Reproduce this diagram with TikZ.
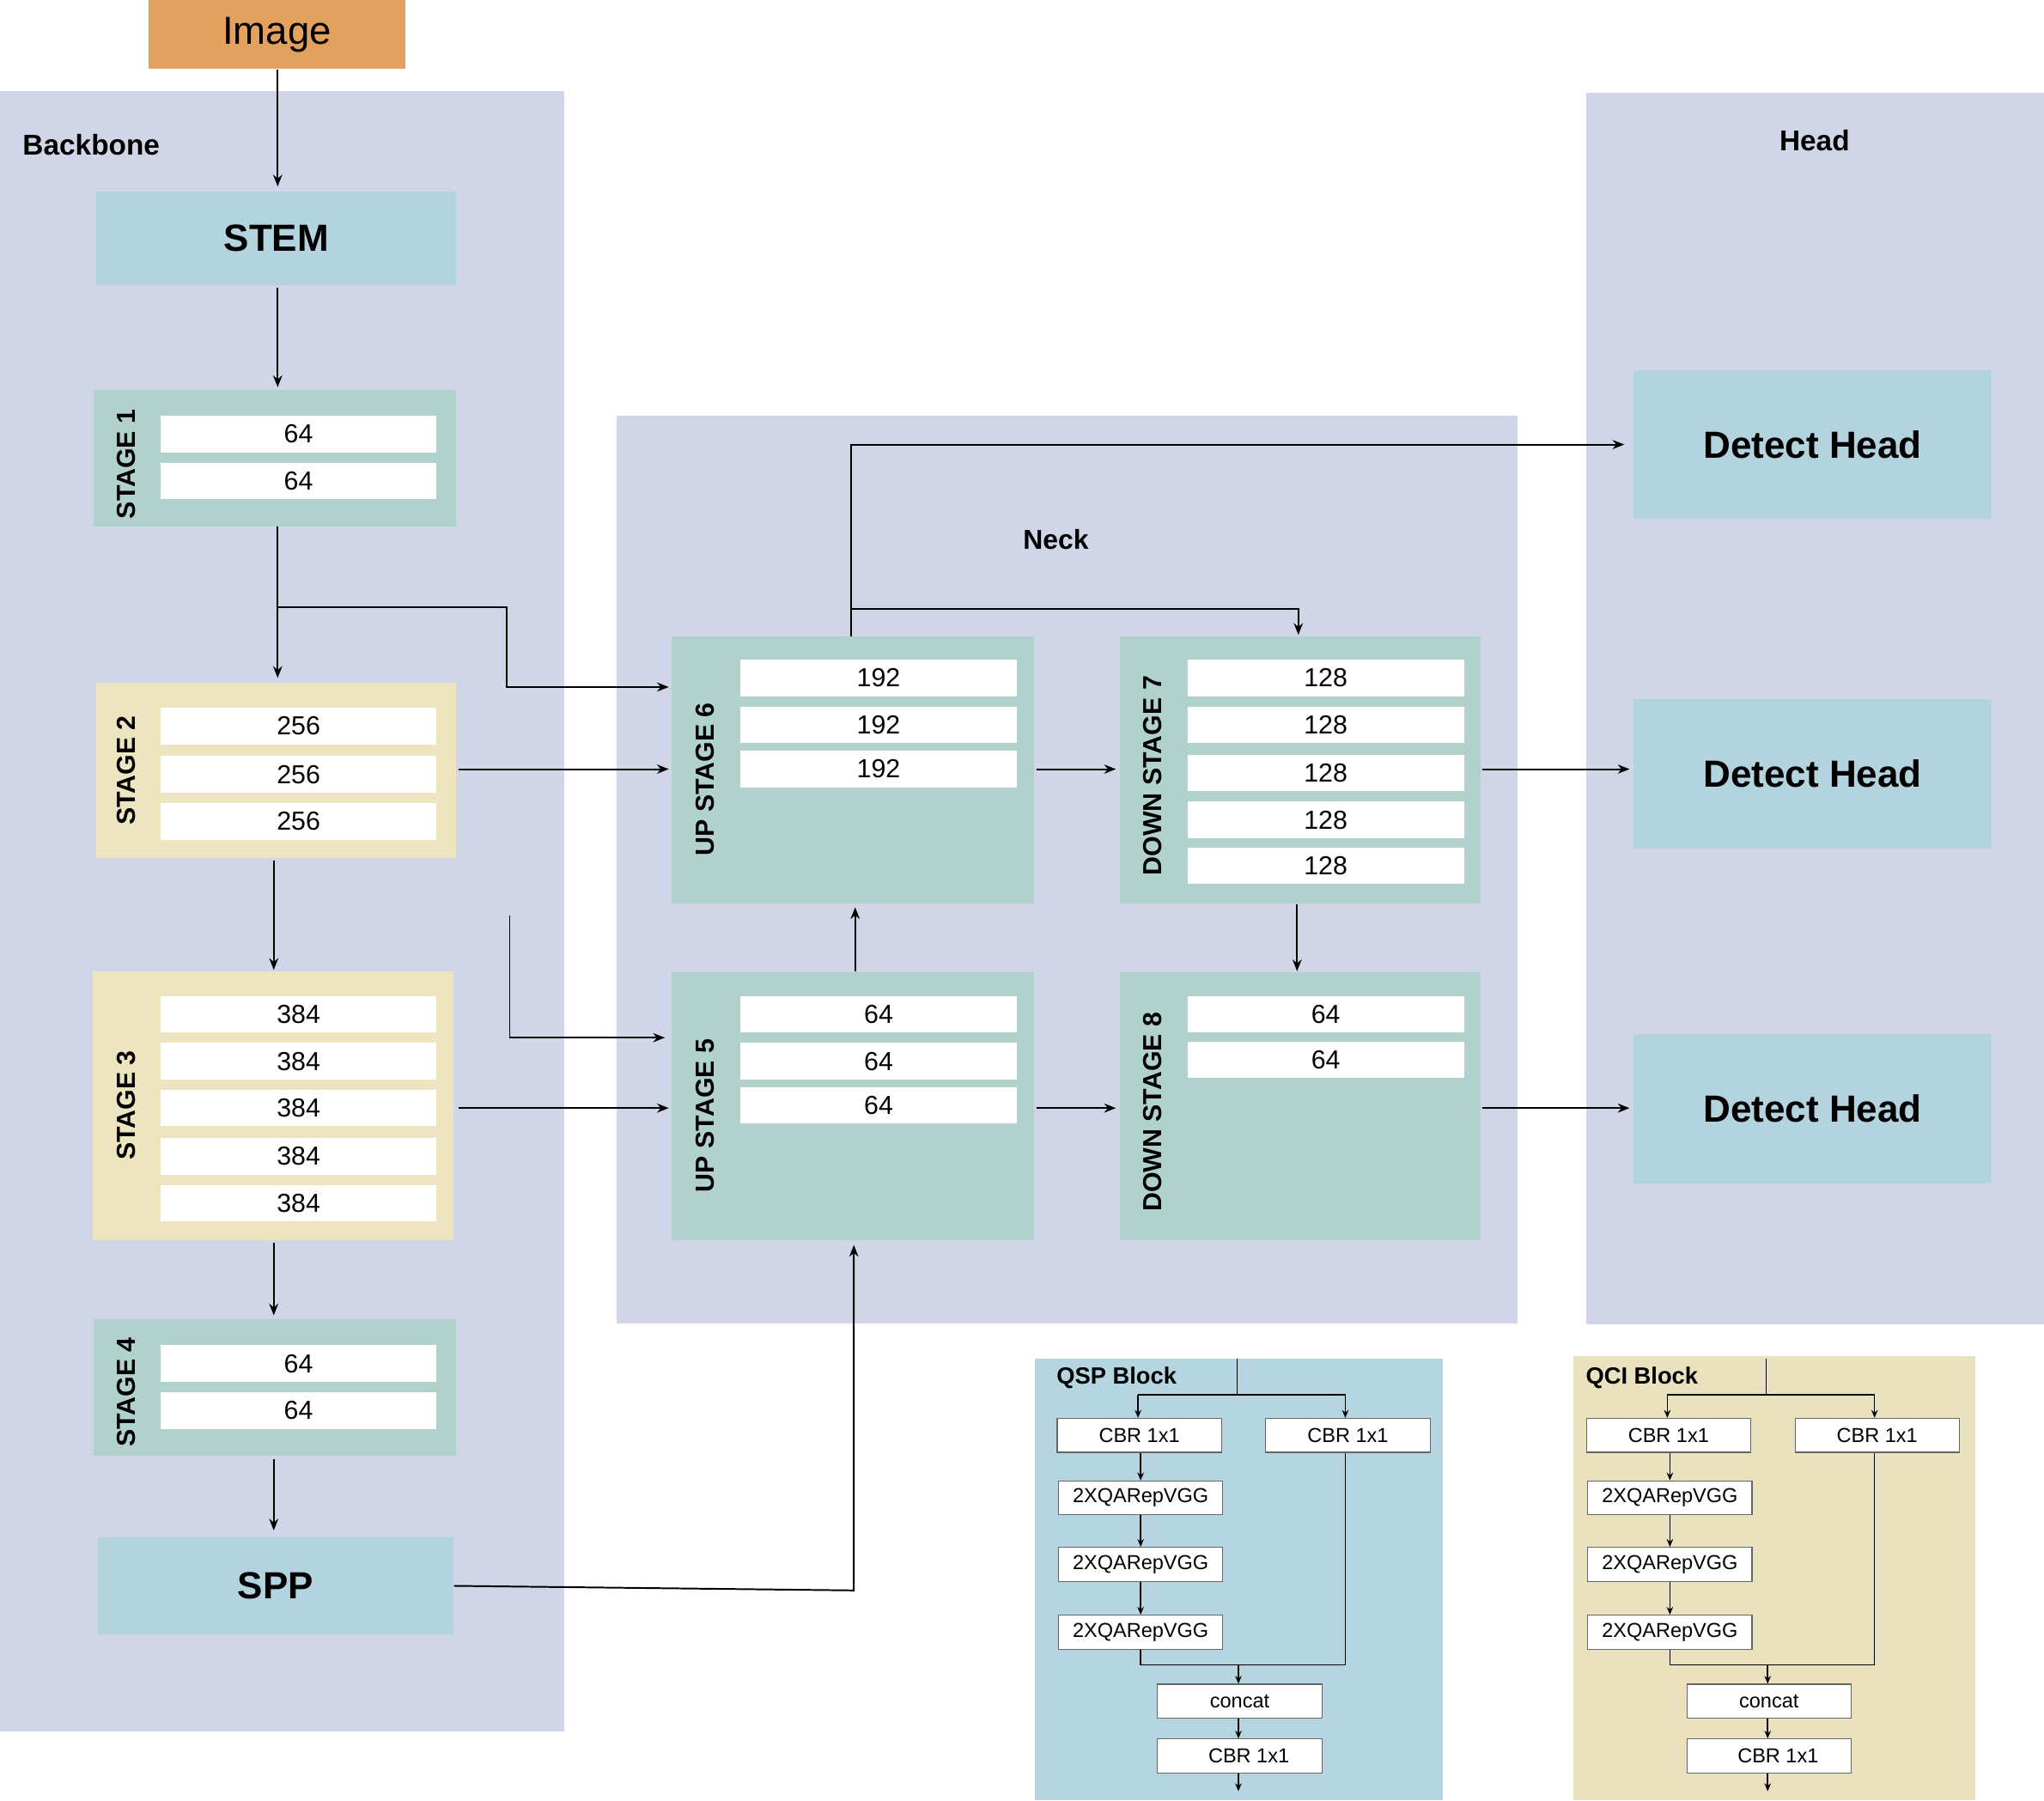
\documentclass[tikz,border=0pt]{standalone}
\usepackage{fontspec}
\setmainfont{Liberation Sans}
\usetikzlibrary{arrows.meta,calc}
\definecolor{lav}{HTML}{D0D5E8}
\definecolor{teal}{HTML}{B1D2CC}
\definecolor{yel}{HTML}{EDE5C0}
\definecolor{lblue}{HTML}{B3D4DF}
\definecolor{qsp}{HTML}{B5D5E0}
\definecolor{qci}{HTML}{EAE2BE}
\definecolor{img}{HTML}{E2A15F}
\tikzset{
  arr/.style={-{Stealth[length=9pt,width=7pt]},line width=1.3pt},
  sarr/.style={-{Stealth[length=6pt,width=5pt]},line width=1pt},
  region/.style={fill=lav,draw=none,inner sep=0pt},
  blk/.style={draw=none,inner sep=0pt},
  row/.style={fill=white,draw=none,inner sep=0pt,font=\fontsize{20}{22}\selectfont},
  vlab/.style={rotate=90,font=\bfseries\fontsize{20}{22}\selectfont},
  big/.style={font=\bfseries\fontsize{29}{32}\selectfont},
  sbox/.style={fill=white,draw=black!60,line width=0.8pt,inner sep=0pt,minimum width=126pt,minimum height=26pt,font=\fontsize{15.5}{17}\selectfont},
}
% box by corners: name, x1,y1,x2,y2, style, text
\newcommand\bxc[7]{\node[#6,minimum width={(#4-#2)*1pt},minimum height={(#5-#3)*1pt}] (#1) at ({(#2+#4)/2},{(#3+#5)/2}) {#7};}
\begin{document}
\begin{tikzpicture}[x=1pt,y=-1pt]
\useasboundingbox (0,0) rectangle (1568,1381);
% regions
\bxc{bb}{0}{70}{433}{1328}{region}{}
\bxc{neck}{473}{319}{1164}{1015}{region}{}
\bxc{head}{1217}{71}{1568}{1016}{region}{}
\node[font=\bfseries\fontsize{22}{24}\selectfont] (bbl) at (70,111) {Backbone};
\node[font=\bfseries\fontsize{21}{24}\selectfont] (neckl) at (810,414) {Neck};
\node[font=\bfseries\fontsize{22}{24}\selectfont] (headl) at (1392,108) {Head};
% image
\bxc{img}{114}{0}{311}{53}{blk,fill=img,font=\fontsize{30}{32}\selectfont}{Image}
% backbone
\bxc{stem}{74}{147}{350}{219}{blk,fill=lblue,big}{STEM}
\bxc{st1}{72}{299}{350}{404}{blk,fill=teal}{}
\bxc{st2}{74}{524}{350}{658}{blk,fill=yel}{}
\bxc{st3}{71}{745}{348}{951}{blk,fill=yel}{}
\bxc{st4}{72}{1012}{350}{1117}{blk,fill=teal}{}
\bxc{spp}{75}{1179}{348}{1254}{blk,fill=lblue,big}{SPP}
\node[vlab] (st1l) at (97,356) {STAGE 1};
\node[vlab] (st2l) at (97,591) {STAGE 2};
\node[vlab] (st3l) at (97,848) {STAGE 3};
\node[vlab] (st4l) at (97,1068) {STAGE 4};
\foreach \y [count=\i] in {319,355} {\bxc{s1r\i}{123}{\y}{335}{\y+28}{row}{64}}
\foreach \y [count=\i] in {543,580,616} {\bxc{s2r\i}{123}{\y}{335}{\y+28}{row}{256}}
\foreach \y [count=\i] in {764,800,836,873,909} {\bxc{s3r\i}{123}{\y}{335}{\y+28}{row}{384}}
\foreach \y [count=\i] in {1032,1068} {\bxc{s4r\i}{123}{\y}{335}{\y+28}{row}{64}}
% neck
\bxc{up6}{515}{488}{793}{693}{blk,fill=teal}{}
\bxc{dn7}{859}{488}{1136}{693}{blk,fill=teal}{}
\bxc{up5}{515}{746}{793}{951}{blk,fill=teal}{}
\bxc{dn8}{859}{746}{1136}{951}{blk,fill=teal}{}
\node[vlab,anchor=west] (up6l) at (541,660) {UP STAGE 6};
\node[vlab,anchor=west] (dn7l) at (884,675) {DOWN STAGE 7};
\node[vlab,anchor=west] (up5l) at (541,918) {UP STAGE 5};
\node[vlab,anchor=west] (dn8l) at (884,933) {DOWN STAGE 8};
\foreach \y [count=\i] in {506,542,576} {\bxc{u6r\i}{568}{\y}{780}{\y+28}{row}{192}}
\foreach \y [count=\i] in {506,542,579,615,650} {\bxc{d7r\i}{911}{\y}{1123}{\y+28}{row}{128}}
\foreach \y [count=\i] in {764,800,834} {\bxc{u5r\i}{568}{\y}{780}{\y+28}{row}{64}}
\foreach \y [count=\i] in {764,799} {\bxc{d8r\i}{911}{\y}{1123}{\y+28}{row}{64}}
% heads
\bxc{dh1}{1253}{284}{1528}{398}{blk,fill=lblue,big}{Detect Head}
\bxc{dh2}{1253}{536}{1528}{651}{blk,fill=lblue,big}{Detect Head}
\bxc{dh3}{1253}{793}{1528}{908}{blk,fill=lblue,big}{Detect Head}
% arrows backbone
\draw[arr] (img.south -| 213,0) -- (213,143);
\draw[arr] (213,221) -- (213,297);
\draw[arr] (213,404) -- (213,520);
\draw[arr] (213,466) -- (389,466) -- (389,527) -- (513,527);
\draw[arr] (352,590) -- (513,590);
\draw[arr] (210,660) -- (210,744);
\coordinate (free) at (391,702);
\draw[arr] (free) -- (391,796) -- (510,796);
\draw[arr] (352,850) -- (513,850);
\draw[arr] (210,953) -- (210,1009);
\draw[arr] (210,1119) -- (210,1174);
\draw[arr] (spp.east) -- (655,1220) -- (655,955);
% neck arrows
\draw[arr] (656,745) -- (656,696);
\draw[arr] (795,590) -- (856,590);
\draw[arr] (653,488) -- (653,341) -- (1246,341);
\draw[arr] (653,467) -- (996,467) -- (996,487);
\draw[arr] (1137,590) -- (1250,590);
\draw[arr] (995,694) -- (995,745);
\draw[arr] (795,850) -- (856,850);
\draw[arr] (1137,850) -- (1250,850);
% QSP / QCI blocks
\bxc{qsp}{794}{1042}{1107}{1381}{blk,fill=qsp}{}
\bxc{qci}{1207}{1040}{1515}{1381}{blk,fill=qci}{}
\foreach \nm/\dx/\ttl in {a/0/QSP Block,b/406/QCI Block}{
  \node[anchor=west,font=\bfseries\fontsize{18}{20}\selectfont] (\nm t) at (807+\dx,1057) {\ttl};
  \node[sbox] (\nm c1) at (874+\dx,1101) {CBR 1x1};
  \node[sbox] (\nm c2) at (1034+\dx,1101) {CBR 1x1};
  \node[sbox] (\nm r1) at (875+\dx,1149) {2XQARepVGG};
  \node[sbox] (\nm r2) at (875+\dx,1200) {2XQARepVGG};
  \node[sbox] (\nm r3) at (875+\dx,1252) {2XQARepVGG};
  \node[sbox] (\nm cc) at (951+\dx,1305) {concat};
  \node[sbox] (\nm c3) at (951+\dx,1347) {\hspace*{14pt}CBR 1x1};
  \coordinate (\nm top) at (949+\dx,1042);
  \coordinate (\nm end) at (951+\dx,1374);
  \draw[line width=1pt] (\nm top) -- (949+\dx,1070);
  \draw[sarr] (873+\dx,1070) -- (\nm c1.north -| 873+\dx,0);
  \draw[sarr] (873+\dx,1070) -- (1032+\dx,1070) -- (\nm c2.north -| 1032+\dx,0);
  \draw[sarr] (\nm c1.south -| 875+\dx,0) -- (\nm r1.north -| 875+\dx,0);
  \draw[sarr] (\nm r1.south -| 875+\dx,0) -- (\nm r2.north -| 875+\dx,0);
  \draw[sarr] (\nm r2.south -| 875+\dx,0) -- (\nm r3.north -| 875+\dx,0);
  \draw[line width=1pt] (\nm r3.south -| 875+\dx,0) -- (875+\dx,1277) -- (1032+\dx,1277) -- (\nm c2.south -| 1032+\dx,0);
  \draw[sarr] (950+\dx,1277) -- (\nm cc.north -| 950+\dx,0);
  \draw[sarr] (\nm cc.south -| 950+\dx,0) -- (\nm c3.north -| 950+\dx,0);
  \draw[sarr] (\nm c3.south -| 950+\dx,0) -- (\nm end -| 950+\dx,0);
}
\end{tikzpicture}
\end{document}
